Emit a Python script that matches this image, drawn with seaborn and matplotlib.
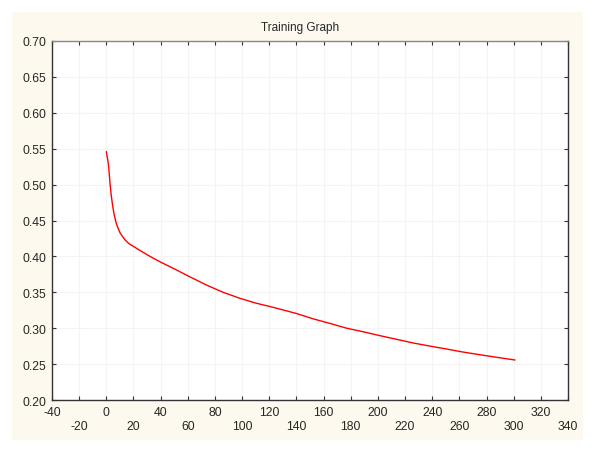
import seaborn as sns
import matplotlib.pyplot as plt
import pandas as pd
from matplotlib.patches import Rectangle

# curva de entrenamiento
epoch = [0, 0.5, 1, 1.5, 2, 2.7, 3.5, 4.7, 5.8, 7.1, 8.5, 10.1, 11.8, 13.8, 16.5,
         19.9, 25, 32.2, 40, 49.3, 60, 73.9, 86, 98.4, 110, 123, 140, 152.4, 165,
         177, 190, 201.5, 215, 226, 240, 250.6, 262, 275.2, 288, 301]
error = [0.546, 0.540, 0.535, 0.529, 0.519, 0.502, 0.487, 0.470, 0.458, 0.4475, 0.440,
         0.433, 0.428, 0.423, 0.418, 0.414, 0.408, 0.400, 0.392, 0.3834, 0.373, 0.360,
         0.350, 0.3416, 0.335, 0.329, 0.3205, 0.313, 0.3065, 0.300, 0.2947, 0.2896,
         0.284, 0.2794, 0.2745, 0.271, 0.267, 0.263, 0.2593, 0.2557]

x_ticks = list(range(-40, 341, 20))
y_ticks = [0.20, 0.25, 0.30, 0.35, 0.40, 0.45, 0.50, 0.55, 0.60, 0.65, 0.70]

df = pd.DataFrame({'epoch': epoch, 'error': error})

sns.set_style('white')
plt.rcParams['font.family'] = ['Liberation Sans', 'DejaVu Sans']

fig = plt.figure(figsize=(6, 4.56), dpi=100, facecolor='white')
# fondo crema
fig.patches.append(Rectangle((12 / 600, 1 - 441 / 456), 571 / 600, 428 / 456,
                             transform=fig.transFigure, facecolor='#fdf9ee',
                             edgecolor='none', zorder=-10))
ax = fig.add_axes([52 / 600, 1 - 401 / 456, 516 / 600, 359 / 456])
ax.set_zorder(1)
ax.set_facecolor('white')

sns.lineplot(data=df, x='epoch', y='error', color='red', linewidth=1, ax=ax)

ax.set_xlim(-40, 340)
ax.set_ylim(0.20, 0.70)
ax.set_xticks(x_ticks)
ax.set_xticklabels([str(t) if i % 2 == 0 else '\n' + str(t) for i, t in enumerate(x_ticks)],
                   fontsize=8.8, linespacing=1.3)
ax.set_yticks(y_ticks)
ax.set_yticklabels(['%.2f' % v for v in y_ticks], fontsize=8.8)
ax.tick_params(direction='in', length=3, width=0.8, top=True, right=True,
               bottom=True, left=True, color='#333333', pad=4)
ax.grid(True, color='#f4f4f4', linewidth=0.8)
for s in ax.spines.values():
    s.set_color('#333333')
    s.set_linewidth(1)
ax.spines['top'].set_color('#888888')
ax.set_xlabel('')
ax.set_ylabel('')

fig.text(0.5, 1 - 27.5 / 456, 'Training Graph', ha='center', va='center', fontsize=8.5)

plt.savefig('out.png', dpi=100, facecolor='white')
